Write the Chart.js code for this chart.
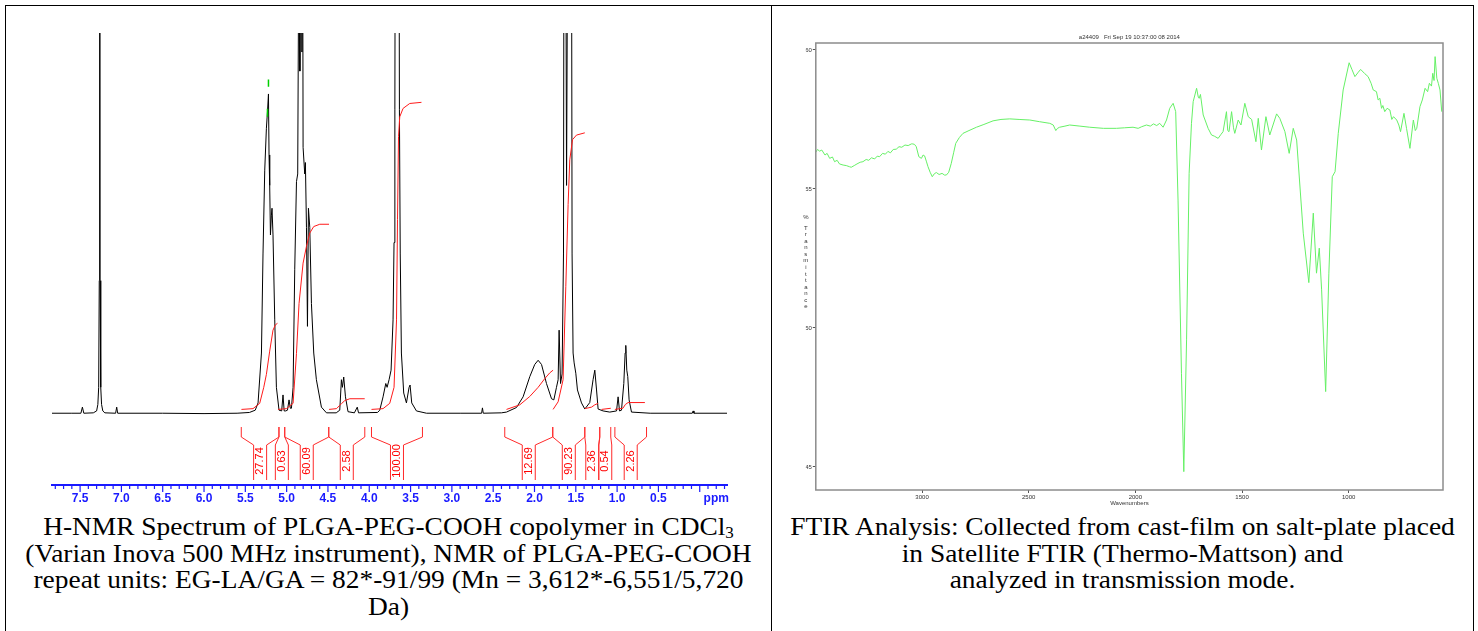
<!DOCTYPE html>
<html><head><meta charset="utf-8">
<script src="https://cdn.jsdelivr.net/npm/chart.js@4.4.1/dist/chart.umd.min.js"></script>
<style>
html,body{margin:0;padding:0;background:#fff;}
body{width:1478px;height:631px;position:relative;overflow:hidden;}
canvas{position:absolute;}
.line{position:absolute;background:#000;z-index:5;}
.cap{position:absolute;top:514px;font-family:"Liberation Serif","Times New Roman",serif;font-size:25.5px;line-height:26.5px;text-align:center;white-space:nowrap;color:#000;transform:scaleX(1.075);transform-origin:50% 0;}
.cap sub{font-size:0.62em;vertical-align:-0.2em;line-height:0;}
</style></head><body>
<div class="line" style="left:5px;top:5px;width:1469px;height:1px"></div>
<div class="line" style="left:5px;top:5px;width:1px;height:626px"></div>
<div class="line" style="left:771px;top:5px;width:1px;height:626px"></div>
<div class="line" style="left:1473px;top:5px;width:1px;height:626px"></div>
<canvas id="nmr" width="771" height="512" style="left:0;top:0"></canvas>
<canvas id="ftir" width="700" height="512" style="left:772px;top:0"></canvas>
<div class="cap" style="left:6px;width:765px">H-NMR Spectrum of PLGA-PEG-COOH copolymer in CDCl<sub>3</sub><br>(Varian Inova 500 MHz instrument), NMR of PLGA-PEG-COOH<br>repeat units: EG-LA/GA = 82*-91/99 (Mn = 3,612*-6,551/5,720<br>Da)</div>
<div class="cap" style="left:772px;width:701px">FTIR Analysis: Collected from cast-film on salt-plate placed<br>in Satellite FTIR (Thermo-Mattson) and<br>analyzed in transmission mode.</div>
<script>
// ---------------- NMR data (ppm, intensity) ----------------
const nmrSpectrum = [
[7.84,0.2],[7.60,0.2],[7.49,0.2],[7.472,1.8],[7.455,0.2],
[7.34,0.3],[7.30,0.8],[7.285,2.5],[7.275,7],[7.268,35],[7.263,300],[7.258,35],[7.25,7],[7.24,2.5],[7.225,0.8],[7.20,0.3],
[7.07,0.2],[7.057,1.8],[7.045,0.2],
[6.5,0.2],[6.0,0.1],[5.60,0.2],[5.45,0.4],[5.38,1.0],[5.346,2.9],[5.305,16],[5.286,42],[5.265,64],[5.245,75],[5.230,80],[5.220,84],[5.213,68],[5.205,60],[5.196,47],[5.185,52],[5.177,54],[5.165,47],[5.144,24.7],[5.124,7],[5.092,1],
[5.060,0.8],[5.044,5],[5.030,0.8],[5.011,0.8],[4.990,1.0],[4.971,3.7],[4.955,1.5],[4.942,1.5],
[4.922,7],[4.902,38],[4.881,61],[4.866,63],[4.858,100],[4.850,150],[4.840,90],[4.829,140],[4.815,95],[4.805,120],[4.801,70],[4.781,63],[4.773,66],[4.760,49],[4.748,23],[4.736,54],[4.720,49],[4.700,29],[4.672,16],[4.640,9],[4.579,1.8],[4.518,0.3],
[4.40,0.3],[4.357,1],[4.337,9],[4.325,7],[4.309,9.7],[4.288,4.5],[4.257,0.6],[4.18,0.3],[4.145,1.8],[4.13,0.3],
[3.90,0.4],[3.873,1],[3.833,4.5],[3.800,8],[3.784,7],[3.760,9],[3.736,11.5],[3.712,24.7],[3.700,45],[3.690,80],[3.680,200],[3.660,300],[3.645,200],[3.635,80],[3.625,42],[3.611,16],[3.583,5.5],[3.550,2.9],[3.518,7],[3.506,7.6],[3.486,2.9],[3.429,0.8],[3.307,0.2],
[2.90,0.2],[2.64,0.2],[2.630,1.6],[2.620,0.2],[2.40,0.3],[2.339,0.5],[2.218,1.7],[2.138,4.5],[2.057,9.8],[1.997,13],[1.956,14.1],[1.915,13],[1.855,8],[1.794,4],[1.766,3.7],[1.734,7],[1.714,9],[1.702,22],[1.685,8],[1.666,10.5],[1.649,42],[1.633,300],[1.620,120],[1.612,60],[1.600,120],[1.564,300],[1.545,42],[1.533,16],[1.520,13.4],[1.500,10.7],[1.480,6.3],[1.431,2.9],[1.391,1.3],[1.331,3],[1.291,9],[1.270,11.5],[1.249,6.3],[1.230,1.3],[1.170,0.8],[1.089,0.5],[1.007,0.8],[0.988,4.5],[0.971,0.8],[0.947,1.0],[0.919,8],[0.903,16],[0.895,18],[0.883,11.5],[0.871,9.8],[0.855,3.7],[0.826,0.5],[0.60,0.2],[0.09,0.2],[0.080,0.8],[0.07,0.2],[-0.33,0.2]
];
const integral1 = [[5.547,1.2],[5.407,1.4],[5.326,2.8],[5.277,7],[5.245,10.4],[5.205,16.5],[5.165,22],[5.136,23.4],[5.111,23.8]];
const integral2 = [[5.104,1.2],[5.003,1.4],[4.922,2.8],[4.881,15.9],[4.850,29],[4.801,39.6],[4.760,44],[4.720,47.5],[4.672,49.2],[4.599,49.8],[4.487,49.8]];
const integral3 = [[4.487,1.2],[4.397,1.4],[4.337,2.7],[4.297,3.5],[4.236,4.0],[4.055,4.0]];
const integral4 = [[3.973,1.2],[3.833,1.4],[3.752,2.8],[3.700,7],[3.670,24.7],[3.658,51],[3.646,72.8],[3.631,78],[3.591,80.2],[3.510,81.5],[3.368,81.8]];
const integral5 = [[2.339,1.2],[2.178,2.4],[2.057,4.6],[1.956,7],[1.875,9.3],[1.815,10.8],[1.775,11.5]];
const integral6 = [[1.775,1.2],[1.714,3.2],[1.654,9],[1.621,33.4],[1.593,55],[1.573,66.7],[1.540,72],[1.492,73.2],[1.391,73.8]];
const integral7 = [[1.391,1.4],[1.310,1.8],[1.270,2.4],[1.230,2.8]];
const integral8 = [[1.189,1.2],[1.077,1.5]];
const integral9 = [[1.027,1.2],[0.930,1.5],[0.900,2.5],[0.867,3.0],[0.664,3.0]];
const peakMark1 = [[5.220,87.8],[5.220,85.9]];
const peakMark2 = [[5.232,80.1],[5.232,78.0]];
const integralFrom   = [5.549, 5.093, 5.023, 4.490, 3.973, 2.360, 1.779, 1.391, 1.210, 1.027];
const integralTo     = [5.093, 5.023, 4.490, 4.054, 3.356, 1.779, 1.391, 1.210, 1.077, 0.644];
const integralLabels = ['27.74','0.63','60.09','2.58','100.00','12.69','90.23','2.36','0.54','2.26'];
const nmrTickLabels = ['7.5','7.0','6.5','6.0','5.5','5.0','4.5','4.0','3.5','3.0','2.5','2.0','1.5','1.0','0.5'];
const nmrUnitLabel = 'ppm';

// ---------------- FTIR data (wavenumber, %T) ----------------
const ftirSpectrum = [
[3499,56.31],[3490,56.42],[3480,56.36],[3470,56.40],[3455,56.22],[3445,56.28],[3433,56.10],[3420,56.15],[3410,55.98],[3398,56.03],[3387,55.90],[3370,55.86],[3355,55.84],[3340,55.80],[3332,55.78],[3318,55.84],[3305,55.90],[3290,55.96],[3277,55.98],[3262,56.06],[3250,56.03],[3237,56.12],[3222,56.08],[3210,56.18],[3199,56.16],[3185,56.28],[3172,56.25],[3160,56.35],[3148,56.30],[3135,56.42],[3121,56.43],[3108,56.52],[3095,56.50],[3080,56.58],[3065,56.56],[3050,56.62],[3043,56.62],[3035,56.60],[3027,56.52],[3015,56.16],[3003,56.10],[2995,56.22],[2988,56.19],[2980,56.00],[2972,55.80],[2962,55.60],[2952,55.44],[2942,55.55],[2933,55.59],[2920,55.52],[2906,55.56],[2895,55.50],[2886,55.50],[2875,55.60],[2863,55.92],[2852,56.30],[2842,56.64],[2825,56.85],[2808,57.00],[2780,57.10],[2745,57.22],[2710,57.32],[2667,57.45],[2630,57.50],[2589,57.52],[2545,57.50],[2495,57.48],[2450,57.42],[2401,57.36],[2385,57.30],[2373,57.10],[2365,57.18],[2355,57.22],[2330,57.26],[2308,57.30],[2260,57.26],[2214,57.22],[2150,57.18],[2089,57.18],[2050,57.20],[2011,57.22],[1987,57.18],[1970,57.24],[1948,57.30],[1930,57.26],[1915,57.34],[1900,57.28],[1886,57.36],[1870,57.22],[1854,57.48],[1839,57.90],[1823,58.08],[1811,57.78],[1800,54.60],[1784,48.37],[1773,44.83],[1760,49.57],[1748,55.56],[1737,57.36],[1729,58.14],[1713,58.62],[1705,58.30],[1701,58.26],[1695,58.40],[1682,57.66],[1659,57.18],[1643,56.94],[1630,56.90],[1612,56.82],[1600,56.95],[1589,57.06],[1573,57.78],[1567,57.10],[1561,57.06],[1549,57.78],[1540,57.20],[1534,57.00],[1518,57.48],[1505,57.30],[1487,58.08],[1471,57.60],[1455,57.50],[1435,56.70],[1424,57.54],[1409,56.40],[1388,57.60],[1370,56.94],[1338,57.70],[1323,57.54],[1299,57.06],[1279,56.28],[1260,57.18],[1244,56.76],[1213,53.41],[1187,51.63],[1166,54.13],[1151,51.97],[1138,52.87],[1127,51.37],[1108,47.71],[1093,51.97],[1077,55.44],[1064,55.62],[1049,57.00],[1026,58.56],[998,59.54],[985,59.30],[971,59.04],[955,59.20],[944,59.30],[925,59.15],[909,59.04],[895,58.80],[885,58.56],[870,58.50],[862,58.20],[854,58.26],[846,57.90],[840,58.00],[831,57.78],[820,57.90],[807,57.84],[798,57.50],[790,57.60],[775,57.48],[765,57.30],[757,57.06],[741,57.72],[729,57.18],[713,56.46],[697,57.48],[688,57.10],[681,57.18],[666,57.96],[655,58.20],[642,58.62],[630,58.50],[622,58.80],[612,58.70],[606,59.16],[600,58.90],[595,59.76],[587,58.98],[580,58.80],[572,58.56],[564,57.78]
];
const ftirXTicks = [3000, 2500, 2000, 1500, 1000];
const ftirYTicks = [45, 50, 55, 60];
const ftirTitle = 'a24409   Fri Sep 19 10:37:00 08 2014';
const ftirYTitle = '% Transmittance';
const ftirXTitle = 'Wavenumbers';

Chart.defaults.font.family = '"Liberation Sans", Arial, sans-serif';
const pts = a => a.map(([x, y]) => ({x, y}));

// ---------------- NMR chart ----------------
const nmrDecor = {
  id: 'nmrDecor',
  afterDraw(chart) {
    const ctx = chart.ctx, xs = chart.scales.x;
    ctx.save();
    ctx.strokeStyle = '#1a1aff'; ctx.lineWidth = 1.2;
    xs.ticks.forEach(t => {
      const px = xs.getPixelForValue(t.value);
      const major = Math.abs(Math.round(t.value * 10)) % 5 === 0;
      ctx.beginPath(); ctx.moveTo(px, xs.top); ctx.lineTo(px, xs.top + (major ? 7 : 4)); ctx.stroke();
    });
    ctx.strokeStyle = '#ff2a2a'; ctx.lineWidth = 1;
    integralFrom.forEach((f, i) => {
      const xl = xs.getPixelForValue(f), xr = xs.getPixelForValue(integralTo[i]);
      const c = (xl + xr) / 2, il = c - 6.5, ir = c + 6.5;
      ctx.beginPath();
      ctx.moveTo(xl, 427); ctx.lineTo(xl, 437); ctx.lineTo(il, 445); ctx.lineTo(il, 480);
      ctx.moveTo(xr, 427); ctx.lineTo(xr, 437); ctx.lineTo(ir, 445); ctx.lineTo(ir, 480);
      ctx.stroke();
      ctx.save();
      ctx.translate(c, 461); ctx.rotate(-Math.PI / 2);
      ctx.fillStyle = '#ff0000'; ctx.font = '11px "Liberation Sans", Arial';
      ctx.textAlign = 'center'; ctx.textBaseline = 'middle';
      ctx.fillText(integralLabels[i], 0, 0);
      ctx.restore();
    });
    ctx.restore();
  }
};
const red = d => ({data: pts(d), borderColor: '#ff1a1a', borderWidth: 1, pointRadius: 0, tension: 0, order: 1});
new Chart(document.getElementById('nmr'), {
  type: 'line',
  data: {datasets: [
    {data: pts(nmrSpectrum), borderColor: '#000', borderWidth: 1, pointRadius: 0, tension: 0, order: 2},
    red(integral1), red(integral2), red(integral3), red(integral4), red(integral5),
    red(integral6), red(integral7), red(integral8), red(integral9),
    {data: pts(peakMark1), borderColor: '#00d000', borderWidth: 1.5, pointRadius: 0, order: 0},
    {data: pts(peakMark2), borderColor: '#00d000', borderWidth: 1.5, pointRadius: 0, order: 0}
  ]},
  options: {
    responsive: false, animation: false, events: [],
    layout: {padding: {left: 52, right: 44, top: 33, bottom: 0}},
    plugins: {legend: {display: false}, tooltip: {enabled: false}},
    scales: {
      x: {type: 'linear', reverse: true, min: -0.33, max: 7.84,
        afterFit: s => { s.height = 27; },
        grid: {display: false, drawTicks: false},
        border: {display: true, color: '#1a1aff', width: 2},
        ticks: {stepSize: 0.1, includeBounds: false, autoSkip: false, maxRotation: 0, minRotation: 0, padding: 6,
          color: '#1a1aff', font: {size: 12, weight: 'bold'},
          callback: v => {
            const k = Math.round(v * 10);
            if (k === -2) return nmrUnitLabel;
            if (k >= 5 && k % 5 === 0) return nmrTickLabels[(75 - k) / 5];
            return '';
          }}
      },
      y: {display: false, min: -18.64, max: 100}
    }
  },
  plugins: [nmrDecor]
});

// ---------------- FTIR chart ----------------
const ftirDecor = {
  id: 'ftirDecor',
  afterDraw(chart) {
    const ctx = chart.ctx, a = chart.chartArea;
    ctx.save();
    ctx.strokeStyle = '#8c8c8c'; ctx.lineWidth = 1.5;
    ctx.strokeRect(a.left, a.top, a.right - a.left, a.bottom - a.top);
    ctx.fillStyle = '#333'; ctx.font = '6px "Liberation Sans", Arial';
    ctx.textAlign = 'center'; ctx.textBaseline = 'middle';
    ctx.fillText(ftirTitle, (a.left + a.right) / 2, a.top - 6);
    const letters = ftirYTitle.replace(' ', '').split('');
    let y = 217;
    letters.forEach((ch, i) => {
      ctx.fillText(ch, a.left - 10, y);
      y += (i === 0 ? 11 : 6.56);
    });
    ctx.restore();
  }
};
new Chart(document.getElementById('ftir'), {
  type: 'line',
  data: {datasets: [
    {data: pts(ftirSpectrum), borderColor: '#66f066', borderWidth: 1, pointRadius: 0, tension: 0}
  ]},
  options: {
    responsive: false, animation: false, events: [],
    layout: {padding: {left: 33.8, right: 29, top: 43, bottom: 2}},
    plugins: {legend: {display: false}, tooltip: {enabled: false}},
    scales: {
      x: {type: 'linear', reverse: true, min: 558, max: 3498,
        afterFit: s => { s.height = 20; },
        afterBuildTicks: s => { s.ticks = ftirXTicks.map(v => ({value: v})); },
        grid: {drawOnChartArea: false, drawTicks: true, tickLength: 3, color: '#555'},
        border: {display: false},
        title: {display: true, text: ftirXTitle, color: '#333', font: {size: 6}, padding: {top: 0, bottom: 3}},
        ticks: {maxRotation: 0, padding: 1, color: '#333', font: {size: 6}, callback: v => String(v)}
      },
      y: {min: 44.17, max: 60.25,
        afterFit: s => { s.width = 10; },
        afterBuildTicks: s => { s.ticks = ftirYTicks.map(v => ({value: v})); },
        grid: {drawOnChartArea: false, drawTicks: true, tickLength: 3, color: '#555'},
        border: {display: false},
        ticks: {padding: 1, color: '#333', font: {size: 6}, callback: v => String(v)}
      }
    }
  },
  plugins: [ftirDecor]
});
</script>
</body></html>
